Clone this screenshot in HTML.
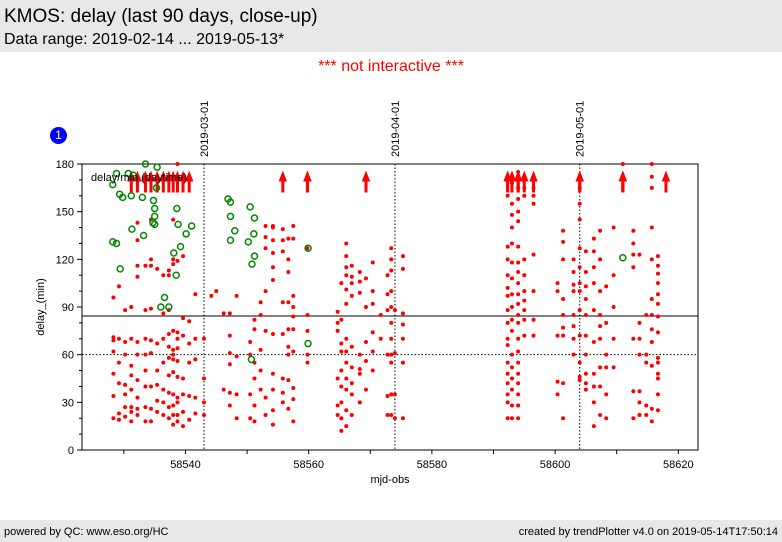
<!DOCTYPE html>
<html><head><meta charset="utf-8"><style>
body{margin:0;width:782px;height:542px;background:#fff;font-family:"Liberation Sans","DejaVu Sans",sans-serif;position:relative;overflow:hidden}
#hdr{position:absolute;left:0;top:0;width:782px;height:52px;background:#e8e8e8}
#t1{position:absolute;left:4px;top:6px;font-size:19px;color:#000}
#t2{position:absolute;left:4px;top:31px;font-size:16px;color:#000}
#ni{position:absolute;left:0;width:782px;top:58px;text-align:center;color:#f00;font-size:16px}
#ftr{position:absolute;left:0;top:520px;width:782px;height:22px;background:#e8e8e8;font-size:11px}
#badge{position:absolute;left:50px;top:127px;width:17px;height:17px;border-radius:50%;background:#00f;color:#fff;font-size:12px;text-align:center;line-height:17px}
svg{position:absolute;left:0;top:0}
</style></head><body>
<div id="hdr">
<div id="t1">KMOS: delay (last 90 days, close-up)</div>
<div id="t2">Data range: 2019-02-14 ... 2019-05-13*</div></div>
<div id="ni">*** not interactive ***</div>
<div id="badge">1</div>
<svg id="chart" width="782" height="542"></svg>
<div id="ftr"><span style="position:absolute;left:4px;top:6px">powered by QC: www.eso.org/HC</span><span style="position:absolute;right:4px;top:6px">created by trendPlotter v4.0 on 2019-05-14T17:50:14</span></div>
<script>
const redDays=[58528.3,58529.2,58530.2,58531.2,58532.2,58533.5,58534.4,58535.4,58536.4,58537.3,58538.0,58538.7,58539.6,58540.6,58541.6,58543.0,58544.2,58545.0,58546.2,58547.2,58548.3,58550.5,58551.2,58552.2,58553.0,58554.2,58555.8,58556.7,58557.5,58559.8,58564.7,58565.3,58566.1,58567.0,58568.3,58569.3,58570.4,58571.7,58572.8,58573.4,58574.0,58575.3,58592.3,58593.0,58594.0,58595.0,58596.5,58600.4,58601.3,58603.0,58604.0,58605.0,58606.3,58607.3,58608.3,58609.5,58611.0,58612.7,58613.7,58614.8,58615.7,58616.7,58618.0];
const redDelays=[[96,71,69,62,48,34,20],[103,70,55,42,23,19],[88,68,60,41,35,27,21],[90,70,53,47,38,27,24,18,200],[143,132,116,109,68,60,44,33,26,22,200],[116,88,70,60,50,40,27,18,200],[145,120,116,89,69,61,40,26,18,200],[114,67,50,41,31,24,200],[110,86,70,55,38,30,22,200],[113,110,88,73,65,58,47,36,27,20,200],[145,120,117,75,63,60,57,49,35,28,22,16,200],[180,119,74,70,64,56,46,33,30,22,18,200],[122,83,72,45,35,24,15,200],[81,67,55,34,19,200],[98,70,57,33,23],[70,45,30,22],[97],[100],[86,38],[86,72,61,54,36,28],[97,59,35,20],[68,60,35,20],[76,82,55,45,28,18],[93,85,63,50,38],[141,134,127,100,75,33,22],[141,140,132,124,115,107,73,48,38,25,16],[139,132,125,93,73,45,36,30,200],[133,120,112,93,76,65,60,44,26],[141,133,97,90,84,76,62,39,32,18],[127,85,75,60,55,200,200],[87,80,75,45,28,22],[105,82,67,62,50,40,30,20,12],[130,122,115,110,101,92,70,62,55,45,38,25,15],[116,109,105,97,65,52,42,35,22],[112,106,99,60,51,48,30],[108,90,68,56,38,200],[118,100,92,74,62,50],[85,70],[110,98,88,60,34,22],[127,120,113,100,90,80,70,60,55,35,22],[88,61,35,20],[122,114,86,79,70,55,20],[160,128,120,110,102,97,88,80,70,66,55,48,42,35,30,20,200,200],[168,155,148,140,130,118,108,98,90,82,75,60,52,45,38,28,20,200,200],[175,170,165,158,150,144,128,118,112,105,98,92,85,80,70,62,55,48,42,35,28,20,200,200,200],[170,165,160,120,110,100,94,88,82,72,200],[165,160,155,123,100,82,72,200],[105,100,72,43,35],[138,131,120,95,85,77,72,42,20],[120,112,104,100,85,78,70,60],[165,155,145,127,115,105,100,88,72,55,46,44,200,200],[125,112,103,95,85,72,60,48,42,38],[133,125,115,105,88,68,48,40,30,15],[138,120,100,85,78,70,52,40,22],[103,80,60,52,35,20],[140,110,90,70,52],[200,200,200,180],[138,130,123,115,70,37,20],[123,80,70,60,37,30,22],[85,60,55,28,22],[180,172,165,140,120,95,85,76,68,53,26,18],[122,116,111,105,98,92,84,74,58,55,48,45,35,25],[200]];
const greenDays=[58528.2,58528.2,58528.8,58528.8,58529.3,58529.4,58529.8,58530.7,58531.2,58531.3,58531.5,58533.0,58533.2,58533.5,58534.7,58534.8,58535.0,58535.0,58535.0,58535.3,58535.4,58536.0,58536.6,58537.3,58538.1,58538.5,58538.6,58538.8,58539.2,58540.1,58541.0,58546.9,58547.3,58547.3,58547.3,58548.0,58550.2,58550.5,58551.2,58551.1,58551.2,58550.8,58550.7,58559.9,58559.9,58611.0];
const greenDelays=[167,131,174,130,161,114,159,174,160,139,173,159,135,180,143,157,152,147,142,165,178,90,96,90,124,110,152,142,128,136,141,158,156,147,132,138,131,153,146,136,122,117,57,127,67,121];
const xTicks=[58540,58560,58580,58600,58620];
const yTicks=[0,30,60,90,120,150,180];
const dateLines=[[58543,"2019-03-01"],[58574,"2019-04-01"],[58604,"2019-05-01"]];
const L=82,R=698,T=164,B=450,X0=58523.2,X1=58623.2,Y0=0,Y1=180;
const sx=v=>L+(v-X0)/(X1-X0)*(R-L), sy=v=>B-(v-Y0)/(Y1-Y0)*(B-T);
const svg=document.getElementById('chart'),NS='http://www.w3.org/2000/svg';
function mk(t,a,p){const e=document.createElementNS(NS,t);for(const k in a)e.setAttribute(k,a[k]);(p||svg).appendChild(e);return e;}
const g=mk('g',{});


mk('rect',{x:L,y:T,width:R-L,height:B-T,fill:'#fff',stroke:'#000','stroke-width':1},g);
for(let v=0;v<=180;v+=10){const e=mk('line',{x1:L-(v%30?3:5),x2:L,y1:sy(v),y2:sy(v),stroke:'#000'},g);

}
yTicks.forEach(v=>{const t=mk('text',{x:L-8,y:sy(v)+4,'text-anchor':'end','font-size':11},g);t.textContent=v;

});
for(let v=58530;v<=58620;v+=10){const e=mk('line',{x1:sx(v),x2:sx(v),y1:B,y2:B+(v%20?4:4),stroke:'#000'},g);

}
xTicks.forEach(v=>{const t=mk('text',{x:sx(v),y:B+18,'text-anchor':'middle','font-size':11},g);t.textContent=v;

});
let xt=mk('text',{x:(L+R)/2,y:B+33,'text-anchor':'middle','font-size':11},g);xt.textContent='mjd-obs';


let yt=mk('text',{x:44,y:(T+B)/2,'text-anchor':'middle','font-size':11,transform:`rotate(-90 44 ${(T+B)/2})`},g);yt.textContent='delay_(min)';


dateLines.forEach(([d,s])=>{const l=mk('line',{x1:sx(d),x2:sx(d),y1:T,y2:B,stroke:'#000','stroke-dasharray':'1.5,2'},g);


const t=mk('text',{x:sx(d)+4,y:T-7,'font-size':11,transform:`rotate(-90 ${sx(d)+4} ${T-7})`},g);t.textContent=s;

});
const hl=mk('line',{x1:L,x2:R,y1:sy(84.3),y2:sy(84.3),stroke:'#000'},g);


const dl=mk('line',{x1:L,x2:R,y1:sy(60),y2:sy(60),stroke:'#000','stroke-dasharray':'1.5,2'},g);


redDays.forEach((d,i)=>redDelays[i].forEach(v=>{const x=sx(d);
if(v>180){const a=mk('path',{d:`M${x} ${T+8}L${x-3.5} ${T+17}L${x+3.5} ${T+17}Z M${x-1} ${T+16}h2v12h-2Z`,fill:'#f00',stroke:'#f00','stroke-width':1},g);

}
else{const c=mk('circle',{cx:x,cy:sy(v),r:2,fill:'#f00'},g);

}}));
greenDays.forEach((d,i)=>{const c=mk('circle',{cx:sx(d),cy:sy(greenDelays[i]),r:3,fill:'none',stroke:'#080','stroke-width':1.5},g);

});
const lg=mk('text',{x:91,y:181,'font-size':11},g);lg.textContent='delay/min (daytime)';


</script></body></html>
